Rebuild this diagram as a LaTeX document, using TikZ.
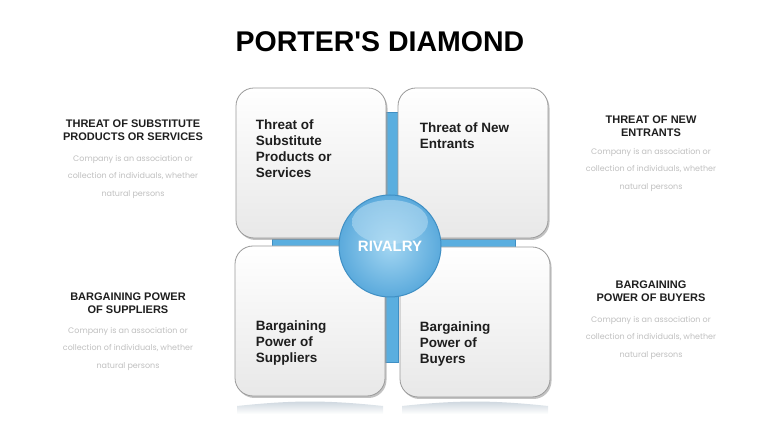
\documentclass[tikz,border=0pt]{standalone}
\usepackage{fontspec}
\setmainfont{Liberation Sans}
\newfontfamily\blurbfont{Poppins}
\usetikzlibrary{positioning,shadows}
\definecolor{barblue}{HTML}{5AAEDF}
\definecolor{baredge}{HTML}{3F8FC4}
\definecolor{ballin}{HTML}{A3D6F2}
\definecolor{ballout}{HTML}{5BAADC}
\definecolor{boxedge}{HTML}{9A9A9A}
\definecolor{headcol}{HTML}{1E1E1E}
\definecolor{blurbcol}{HTML}{BFBFBF}
\definecolor{reflcol}{HTML}{C9D3DC}
\tikzset{
    quad/.style={draw=boxedge, line width=0.8pt, rounded corners=18pt,
        top color=white, bottom color=black!9,
        minimum width=150pt, minimum height=150pt,
        drop shadow={shadow xshift=1.5pt, shadow yshift=-2pt,
            fill=black!40, opacity=0.6}},
    quadtext/.style={font=\bfseries\fontsize{13.5}{16}\selectfont,
        text=headcol, align=left, inner sep=0pt, anchor=north west},
    heading/.style={font=\bfseries\fontsize{11}{13}\selectfont,
        text=headcol, align=center, inner sep=0pt, anchor=north},
    blurb/.style={font=\blurbfont\fontsize{8}{17.5}\selectfont,
        text=blurbcol, align=center, inner sep=0pt},
    rivalball/.style={circle, draw=baredge, line width=1pt,
        inner color=ballin, outer color=ballout, minimum size=102pt,
        text=white, font=\bfseries\fontsize{15}{18}\selectfont,
        path picture={\shade[top color=white!55!ballin, bottom color=ballin, opacity=0.45]
            ([yshift=24pt]path picture bounding box.center)
            ellipse[x radius=38pt, y radius=22pt];}},
}

\begin{document}
\begin{tikzpicture}[x=1pt, y=1pt]
    \useasboundingbox (0,0) rectangle (760,428);

    \node[font=\bfseries\fontsize{28.5}{30}\selectfont, text=black] at (380,386) (title) {PORTER\textquotesingle S DIAMOND};

    % blue cross behind the boxes
    \draw[baredge, fill=barblue] (385,66) rectangle (398,316);
    \draw[baredge, fill=barblue] (272,181) rectangle (515,189);

    % reflections
    \shade[top color=reflcol, bottom color=white] (237,14) -- (237,22) to[bend left=6] (383,22) -- (383,14) -- cycle;
    \shade[top color=reflcol, bottom color=white] (402,14) -- (402,22) to[bend left=6] (548,22) -- (548,14) -- cycle;

    \node[quad] at (311,265) (tl) {};
    \node[quad] at (473,265) (tr) {};
    \node[quad] at (310,107) (bl) {};
    \node[quad] at (475,106) (br) {};

    \node[quadtext, below right=32pt and 20pt of tl.north west] (tltext) {Threat of\\Substitute\\Products or\\Services};
    \node[quadtext, below right=35pt and 22pt of tr.north west] (trtext) {Threat of New\\Entrants};
    \node[quadtext, below right=75pt and 21pt of bl.north west] (bltext) {Bargaining\\Power of\\Suppliers};
    \node[quadtext, below right=75pt and 20pt of br.north west] (brtext) {Bargaining\\Power of\\Buyers};

    \node[rivalball] at (390,182) (rivalry) {RIVALRY};

    % side texts
    \node[heading] at (133,308) (h1) {THREAT OF SUBSTITUTE\\PRODUCTS OR SERVICES};
    \node[blurb, below=14pt of h1] (d1) {Company is an association or\\collection of individuals, whether\\natural persons};

    \node[heading] at (651,312) (h2) {THREAT OF NEW\\ENTRANTS};
    \node[blurb, below=11pt of h2] (d2) {Company is an association or\\collection of individuals, whether\\natural persons};

    \node[heading] at (128,135) (h3) {BARGAINING POWER\\OF SUPPLIERS};
    \node[blurb, below=13pt of h3] (d3) {Company is an association or\\collection of individuals, whether\\natural persons};

    \node[heading] at (651,147) (h4) {BARGAINING\\POWER OF BUYERS};
    \node[blurb, below=14pt of h4] (d4) {Company is an association or\\collection of individuals, whether\\natural persons};
\end{tikzpicture}
\end{document}
